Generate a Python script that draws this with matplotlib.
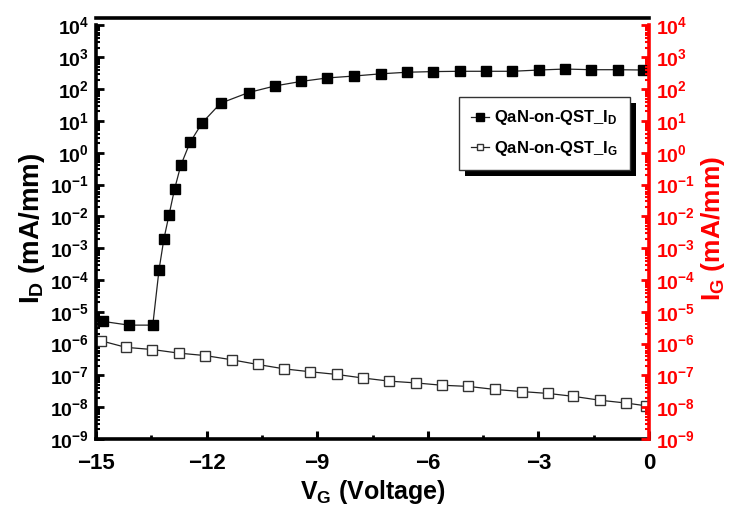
import numpy as np
import matplotlib
matplotlib.use('Agg')
import matplotlib.pyplot as plt
from matplotlib.ticker import LogLocator, NullFormatter, MultipleLocator
from matplotlib.patches import Rectangle

plt.rcParams['font.family'] = ['Liberation Sans', 'DejaVu Sans']
plt.rcParams['font.weight'] = 'bold'
plt.rcParams['mathtext.default'] = 'regular'

# drain current, QaN-on-QST (mA/mm)
vg_d = [-14.82, -14.11, -13.46, -13.29, -13.16, -13.02, -12.87, -12.70,
        -12.45, -12.12, -11.62, -10.86, -10.14, -9.44, -8.73, -8.01,
        -7.28, -6.56, -5.85, -5.13, -4.42, -3.71, -2.98, -2.28, -1.56,
        -0.85, -0.17]
id_vals = [5.0e-6, 3.8e-6, 3.8e-6, 2.1e-4, 1.9e-3, 1.1e-2, 7.1e-2, 0.40,
           2.1, 8.7, 36, 78, 126, 174, 224, 257, 302, 339, 355, 363, 363,
           363, 398, 427, 407, 407, 398]

# gate current (mA/mm)
vg_g = [-14.87, -14.19, -13.47, -12.75, -12.04, -11.32, -10.61, -9.89,
        -9.19, -8.47, -7.77, -7.05, -6.33, -5.62, -4.90, -4.17, -3.45,
        -2.73, -2.06, -1.34, -0.62, -0.07]
ig_vals = [1.23e-6, 7.6e-7, 6.5e-7, 5.0e-7, 4.2e-7, 3.1e-7, 2.2e-7, 1.6e-7,
           1.3e-7, 1.07e-7, 8.3e-8, 6.6e-8, 5.8e-8, 4.9e-8, 4.5e-8, 3.6e-8,
           3.1e-8, 2.7e-8, 2.2e-8, 1.66e-8, 1.35e-8, 1.1e-8]

fig = plt.figure(figsize=(7.32, 5.07), dpi=100)
ax = fig.add_axes([96 / 732, 1 - 439 / 507, 553 / 732, 421 / 507])
ax2 = ax.twinx()

ax.plot(vg_d, id_vals, '-', color='#222222', lw=0.9, marker='s', ms=7,
        mfc='black', mec='black', label=r'QaN-on-QST_I$_D$')
ax.plot(vg_g, ig_vals, '-', color='#222222', lw=0.9, marker='s', ms=6.5,
        mfc='white', mec='#333333', mew=1.0, label=r'QaN-on-QST_I$_G$')

ylo, yhi = 1e-9, 10 ** 4.235
for a in (ax, ax2):
	a.set_yscale('log')
	a.set_ylim(ylo, yhi)
	a.yaxis.set_major_locator(LogLocator(base=10, numticks=40))
	a.yaxis.set_minor_locator(LogLocator(base=10, subs=np.arange(2, 10), numticks=400))
	a.yaxis.set_minor_formatter(NullFormatter())
ax.set_xlim(-15, 0)
ax.xaxis.set_major_locator(MultipleLocator(3))
ax.xaxis.set_minor_locator(MultipleLocator(1.5))

# spines
for s in ('left', 'bottom', 'top'):
	ax.spines[s].set_linewidth(2.6)
	ax.spines[s].set_color('black')
ax.spines['right'].set_visible(False)
ax.spines['left'].set_bounds(1e-9, 1e4)
for s in ('left', 'bottom', 'top'):
	ax2.spines[s].set_visible(False)
ax2.spines['right'].set_color('red')
ax2.spines['right'].set_linewidth(2.6)
ax2.spines['right'].set_bounds(1e-9, 1e4)

ax.tick_params(axis='y', which='major', direction='in', length=6, width=2,
               labelsize=14, pad=5, right=False)
ax.tick_params(axis='y', which='minor', direction='in', length=3, width=1.5, right=False)
ax.tick_params(axis='x', which='major', direction='in', length=6, width=2.2,
               labelsize=16, pad=10, top=False)
ax.tick_params(axis='x', which='minor', direction='in', length=3, width=2, top=False)
ax2.tick_params(axis='y', which='major', direction='in', length=6, width=2,
                labelsize=14, pad=5, colors='red')
ax2.tick_params(axis='y', which='minor', direction='in', length=3, width=1.5, colors='red')

for lab in ax.get_xticklabels() + ax.get_yticklabels() + ax2.get_yticklabels():
	lab.set_fontweight('bold')

ax.set_xlabel(r'V$_G$ (Voltage)', fontsize=18, fontweight='bold', labelpad=3)
ax.set_ylabel(r'I$_D$ (mA/mm)', fontsize=20, fontweight='bold', labelpad=2)
ax2.set_ylabel(r'I$_G$ (mA/mm)', fontsize=19, fontweight='bold', color='red',
               labelpad=3)

leg = ax.legend(loc='upper right', bbox_to_anchor=(0.966, 0.813), borderaxespad=0,
                fontsize=12, frameon=True, fancybox=False, handlelength=1.1,
                handletextpad=0.3, borderpad=0.7, labelspacing=0.7, markerscale=0.75)
leg.get_frame().set_edgecolor('#333333')
leg.get_frame().set_linewidth(1.0)
leg.get_frame().set_alpha(1)
leg.set_zorder(6)

# black drop shadow behind the legend box
fig.canvas.draw()
bb = leg.get_window_extent().transformed(ax.transAxes.inverted())
off_x = 6 / 553
off_y = 6 / 421
ax.add_patch(Rectangle((bb.x0 + off_x, bb.y0 - off_y), bb.width, bb.height,
                       transform=ax.transAxes, facecolor='black', edgecolor='none',
                       zorder=5, clip_on=False))

fig.savefig('out.png', dpi=100)
